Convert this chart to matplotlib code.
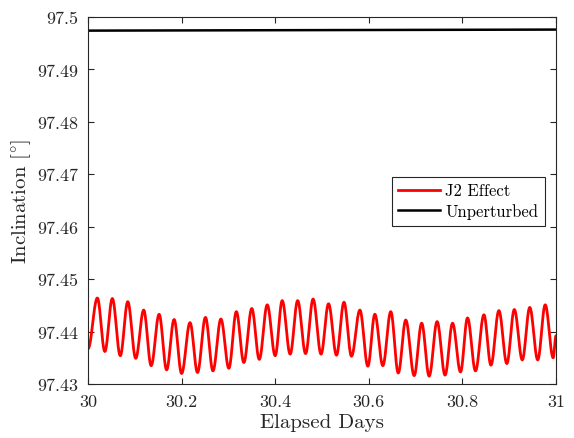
import numpy as np
import matplotlib
matplotlib.use("Agg")
import matplotlib.pyplot as plt

plt.rcParams["font.family"] = ["cmr10", "DejaVu Serif"]
plt.rcParams["mathtext.fontset"] = "cm"
plt.rcParams["axes.formatter.use_mathtext"] = True

# Inclination extrema of the J2-perturbed orbit (day, degrees)
j2_days = [30.000, 30.020, 30.036, 30.052, 30.069, 30.085, 30.102, 30.119,
           30.135, 30.152, 30.168, 30.184, 30.200, 30.218, 30.234, 30.251,
           30.267, 30.284, 30.301, 30.317, 30.333, 30.350, 30.366, 30.383,
           30.400, 30.415, 30.432, 30.448, 30.465, 30.481, 30.498, 30.514,
           30.531, 30.547, 30.563, 30.581, 30.598, 30.613, 30.630, 30.647,
           30.663, 30.679, 30.697, 30.713, 30.729, 30.746, 30.763, 30.779,
           30.796, 30.811, 30.828, 30.846, 30.861, 30.878, 30.895, 30.911,
           30.928, 30.944, 30.961, 30.977, 30.994, 31.000]
j2_incl = [97.4367, 97.4464, 97.4362, 97.4463, 97.4354, 97.4457, 97.4349,
           97.4441, 97.4335, 97.4433, 97.4327, 97.4423, 97.4320, 97.4417,
           97.4322, 97.4427, 97.4325, 97.4424, 97.4330, 97.4438, 97.4341,
           97.4444, 97.4347, 97.4451, 97.4354, 97.4459, 97.4357, 97.4459,
           97.4358, 97.4462, 97.4357, 97.4453, 97.4355, 97.4456, 97.4353,
           97.4441, 97.4334, 97.4433, 97.4335, 97.4438, 97.4321, 97.4422,
           97.4316, 97.4416, 97.4315, 97.4419, 97.4317, 97.4416, 97.4323,
           97.4426, 97.4325, 97.4432, 97.4336, 97.4440, 97.4339, 97.4442,
           97.4346, 97.4446, 97.4346, 97.4451, 97.4350, 97.4392]

# Unperturbed inclination at the start and end of the window
unp_days = [30.0, 31.0]
unp_incl = [97.4974, 97.4976]


def smooth_through(x, y, n=40):
    """Join successive extrema with half-cosine arcs."""
    xs, ys = [], []
    for i in range(len(x) - 1):
        s = np.linspace(0, 1, n, endpoint=False)
        w = (1 - np.cos(np.pi * s)) / 2
        xs.append(x[i] + (x[i + 1] - x[i]) * s)
        ys.append(y[i] + (y[i + 1] - y[i]) * w)
    xs.append([x[-1]])
    ys.append([y[-1]])
    return np.concatenate(xs), np.concatenate(ys)


fig = plt.figure(figsize=(5.74, 4.39), dpi=100)
ax = fig.add_axes([0.1533, 0.123, 0.8153, 0.836])

tx, ty = smooth_through(j2_days, j2_incl)
ax.plot(tx, ty, color="#ff0000", lw=2.0, label="J2 Effect")
ax.plot(unp_days, unp_incl, color="black", lw=1.8, label="Unperturbed")

ax.set_xlim(30, 31)
ax.set_ylim(97.43, 97.5)
ax.set_xticks([30, 30.2, 30.4, 30.6, 30.8, 31])
ax.set_xticklabels(["30", "30.2", "30.4", "30.6", "30.8", "31"])
ax.set_yticks([97.43, 97.44, 97.45, 97.46, 97.47, 97.48, 97.49, 97.5])
ax.set_yticklabels(["97.43", "97.44", "97.45", "97.46", "97.47", "97.48",
                    "97.49", "97.5"])

edge = "#262626"
for sp in ax.spines.values():
    sp.set_color(edge)
    sp.set_linewidth(0.8)
ax.tick_params(direction="in", length=4, width=0.8, color=edge,
               labelcolor=edge, labelsize=13, top=True, right=True, pad=7)

ax.set_xlabel("Elapsed Days", fontsize=15, color=edge, labelpad=3)
ax.set_ylabel(r"Inclination [$^{\circ}$]", fontsize=15, color=edge, labelpad=3)

leg = ax.legend(loc="center right", bbox_to_anchor=(0.983, 0.498),
                fontsize=12, frameon=True, fancybox=False,
                edgecolor=edge, framealpha=1, borderpad=0.4,
                handlelength=2.5, handletextpad=0.3, labelspacing=0.3,
                borderaxespad=0.2)
leg.get_frame().set_linewidth(0.8)

fig.savefig("out.png", dpi=100)
